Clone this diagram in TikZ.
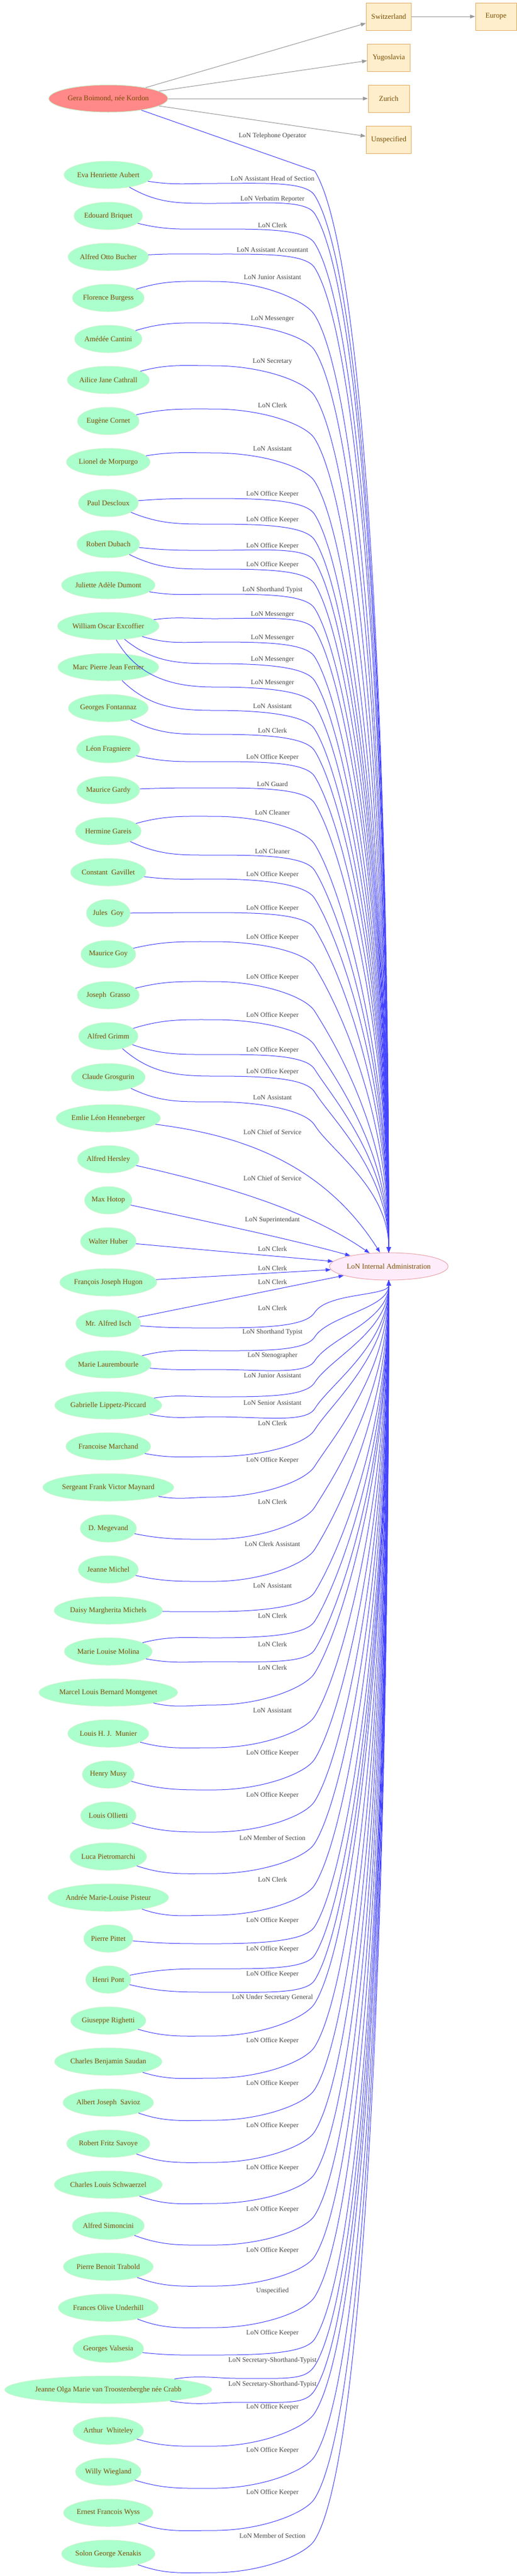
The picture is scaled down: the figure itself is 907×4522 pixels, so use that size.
\documentclass[tikz,border=0pt]{standalone}
\usepackage{fontspec}
\setmainfont{Liberation Serif}
\usetikzlibrary{shapes.geometric,arrows.meta}
\definecolor{pfill}{RGB}{170,255,204}
\definecolor{pborder}{RGB}{200,245,205}
\definecolor{gfill}{RGB}{255,136,136}
\definecolor{ntext}{RGB}{122,76,0}
\definecolor{cfill}{RGB}{255,238,204}
\definecolor{cborder}{RGB}{225,172,100}
\definecolor{lfill}{RGB}{255,236,250}
\definecolor{lborder}{RGB}{232,165,172}
\definecolor{btext}{RGB}{68,68,68}
\definecolor{bline}{RGB}{68,68,255}
\definecolor{gline}{RGB}{153,153,153}
\newcommand\pnfont{\fontsize{12.8pt}{15pt}\selectfont}
\newcommand\lbfont{\fontsize{11.8pt}{14pt}\selectfont}
\newlength\nwlen
\tikzset{
  person/.style={ellipse,fill=pfill,draw=pborder,line width=1pt,text=ntext,font=\pnfont,inner xsep=0pt,inner ysep=3pt,minimum height=48pt},
  country/.style={rectangle,fill=cfill,draw=cborder,line width=1pt,text=ntext,font=\pnfont,inner xsep=9pt,minimum width=72pt,minimum height=48pt},
  lonbox/.style={ellipse,fill=lfill,draw=lborder,line width=1pt,text=ntext,font=\pnfont,inner sep=0pt,minimum width=204pt,minimum height=48pt},
  elabel/.style={font=\lbfont,text=btext,inner sep=0pt},
  bedge/.style={draw=bline,line width=1pt,-{Triangle[length=9pt,width=6.5pt]}},
  gedge/.style={draw=gline,line width=1pt,-{Triangle[length=9pt,width=6.5pt]}}
}
% upper edge: [Ax]{person}{label y}{text}{curve y at Ax}{curve y at 552}
\newcommand\uedge[6][375]{%
  \pgfmathsetmacro\yP{307+72*#2}%
  \pgfmathsetmacro\mm{max(#5,#3+7)}%
  \pgfmathsetmacro\tone{max(-60,min(60,2*atan2(\yP-\mm,#1-190)))}%
  \pgfmathsetmacro\dd{2199-#6}%
  \pgfmathsetmacro\ss{min(90,20+0.035*\dd)}%
  \pgfmathsetmacro\cy{#6-25.4}%
  \pgfmathsetmacro\ax{552+\ss}%
  \pgfmathsetmacro\ay{#6+1.6*\ss}%
  \pgfmathsetmacro\by{#6+0.5*\dd}%
  \draw[bedge] (p#2) to[out=\tone,in=180] (#1,-\mm) .. controls ({#1+85},-\mm) and (536.1,-\cy) .. (552,-#6) .. controls (\ax,-\ay) and (682,-\by) .. (lon.north);
  \node[elabel] (lb#3) at (478,-#3) {#4};
}
% lower edge
\newcommand\ledge[6][375]{%
  \pgfmathsetmacro\yP{307+72*#2}%
  \pgfmathsetmacro\bb{max(#6,#3+8)}%
  \pgfmathsetmacro\tone{max(-60,min(60,2*atan2(\yP-#5,#1-190)))}%
  \pgfmathsetmacro\dd{\bb-2247}%
  \pgfmathsetmacro\ss{min(90,20+0.035*\dd)}%
  \pgfmathsetmacro\cy{\bb+25.4}%
  \pgfmathsetmacro\ax{552+\ss}%
  \pgfmathsetmacro\ay{\bb-1.6*\ss}%
  \pgfmathsetmacro\by{\bb-0.5*\dd}%
  \draw[bedge] (p#2) to[out=\tone,in=180] (#1,-#5) .. controls ({#1+85},-#5) and (536.1,-\cy) .. (552,-\bb) .. controls (\ax,-\ay) and (682,-\by) .. (lon.south);
  \node[elabel] (lb#3) at (478,-#3) {#4};
}
\begin{document}
\begin{tikzpicture}[x=1pt,y=1pt]
\useasboundingbox (0,0) rectangle (907,-4522);
\fill[white] (0,0) rectangle (907,-4522);
% country boxes
\node[country] (swi) at (682,-29) {Switzerland};
\node[country] (yug) at (682,-101) {Yugoslavia};
\node[country] (zur) at (682,-173) {Zurich};
\node[country] (uns) at (682,-245) {Unspecified};
\node[country] (eur) at (870,-29) {Europe};
% central node
\node[lonbox] (lon) at (682,-2223) {LoN Internal Administration};
% Gera
\node[person,fill=gfill,minimum width=209pt] (gera) at (190,-173) {Gera Boimond, née Kordon};
% persons
\foreach \i/\n in {0/Eva Henriette Aubert,1/Edouard Briquet,2/Alfred Otto Bucher,3/Florence Burgess,4/Amédée Cantini,5/Ailice Jane Cathrall,6/Eugène Cornet,7/Lionel de Morpurgo,8/Paul Descloux,9/Robert Dubach,10/Juliette Adèle Dumont,11/William Oscar Excoffier,12/Marc Pierre Jean Ferrier,13/Georges Fontannaz,14/Léon Fragniere,15/Maurice Gardy,16/Hermine Gareis,17/Constant\ \ Gavillet,18/Jules\ \ Goy,19/Maurice Goy,20/Joseph\ \ Grasso,21/Alfred Grimm,22/Claude Grosgurin,23/Emlie Léon Henneberger,24/Alfred Hersley,25/Max Hotop,26/Walter Huber,27/François Joseph Hugon,28/Mr. Alfred Isch,29/Marie Laurembourle,30/Gabrielle Lippetz-Piccard,31/Francoise Marchand,32/Sergeant Frank Victor Maynard,33/D. Megevand,34/Jeanne Michel,35/Daisy Margherita Michels,36/Marie Louise Molina,37/Marcel Louis Bernard Montgenet,38/Louis H. J.\ \ Munier,39/Henry Musy,40/Louis Ollietti,41/Luca Pietromarchi,42/Andrée Marie-Louise Pisteur,43/Pierre Pittet,44/Henri Pont,45/Giuseppe Righetti,46/Charles Benjamin Saudan,47/Albert Joseph\ \ Savioz,48/Robert Fritz Savoye,49/Charles Louis Schwaerzel,50/Alfred Simoncini,51/Pierre Benoit Trabold,52/Frances Olive Underhill,53/Georges Valsesia,54/Jeanne Olga Marie van Troostenberghe née Crabb,55/Arthur\ \ Whiteley,56/Willy Wiegland,57/Ernest Francois Wyss,58/Solon George Xenakis}{
  \settowidth{\nwlen}{\pnfont\n}
  \pgfmathsetmacro\w{1.306*\nwlen+22}
  \node[person,minimum width=\w pt] (p\i) at (190,{-307-72*\i}) {\n};
}
% grey edges
\draw[gedge] (gera) -- (swi);
\draw[gedge] (gera) -- (yug);
\draw[gedge] (gera) -- (zur);
\draw[gedge] (gera) -- (uns);
\draw[gedge] (swi) -- (eur);
% Gera's edge
\draw[bedge] (gera) -- (552,-300) .. controls (638,-438) and (682,-1250) .. (lon.north);
\node[elabel] (lb239) at (478,-239) {LoN Telephone Operator};
% upper edges
\uedge{0}{313}{LoN Assistant Head of Section}{322}{343}
\uedge{0}{350}{LoN Verbatim Reporter}{357}{375}
\uedge{1}{395}{LoN Clerk}{402}{427}
\uedge{2}{439}{LoN Assistant Accountant}{446}{470}
\uedge{3}{487}{LoN Junior Assistant}{494}{553}
\uedge{4}{560}{LoN Messenger}{567}{615}
\uedge{5}{635}{LoN Secretary}{642}{695}
\uedge{6}{711}{LoN Clerk}{718}{770}
\uedge{7}{788}{LoN Assistant}{795}{845}
\uedge{8}{868}{LoN Office Keeper}{875}{903}
\uedge{8}{913}{LoN Office Keeper}{920}{948}
\uedge{9}{959}{LoN Office Keeper}{966}{985}
\uedge{9}{992}{LoN Office Keeper}{999}{1025}
\uedge{10}{1036}{LoN Shorthand Typist}{1043}{1068}
\uedge{11}{1079}{LoN Messenger}{1086}{1105}
\uedge{11}{1120}{LoN Messenger}{1127}{1153}
\uedge{11}{1158}{LoN Messenger}{1165}{1195}
\uedge{11}{1199}{LoN Messenger}{1206}{1237}
\uedge{12}{1240}{LoN Assistant}{1247}{1280}
\uedge{13}{1282}{LoN Clerk}{1289}{1318}
\uedge{14}{1330}{LoN Office Keeper}{1337}{1363}
\uedge{15}{1376}{LoN Guard}{1383}{1410}
\uedge{16}{1426}{LoN Cleaner}{1433}{1482}
\uedge{16}{1494}{LoN Cleaner}{1501}{1528}
\uedge{17}{1536}{LoN Office Keeper}{1543}{1577}
\uedge{18}{1595}{LoN Office Keeper}{1602}{1630}
\uedge{19}{1646}{LoN Office Keeper}{1653}{1697}
\uedge{20}{1716}{LoN Office Keeper}{1723}{1775}
\uedge{21}{1783}{LoN Office Keeper}{1790}{1835}
\uedge{21}{1844}{LoN Office Keeper}{1851}{1877}
\uedge{21}{1882}{LoN Office Keeper}{1889}{1917}
\uedge{22}{1927}{LoN Assistant}{1934}{1975}
% edges close to the central node
\draw[bedge] (p23) .. controls (400,-1990) and (560,-2030) .. (lon);
\node[elabel] (lb1987) at (478,-1987) {LoN Chief of Service};
\draw[bedge] (p24) .. controls (400,-2082) and (540,-2125) .. (lon);
\node[elabel] (lb2068) at (478,-2068) {LoN Chief of Service};
\draw[bedge] (p25) .. controls (400,-2152) and (520,-2178) .. (lon);
\node[elabel] (lb2142) at (478,-2142) {LoN Superintendant};
\draw[bedge] (p26) -- (lon);
\node[elabel] (lb2192) at (478,-2192) {LoN Clerk};
\draw[bedge] (p27) -- (lon);
\node[elabel] (lb2226) at (478,-2226) {LoN Clerk};
\draw[bedge] (p28) -- (lon);
\node[elabel] (lb2250) at (478,-2250) {LoN Clerk};
% lower edges
\ledge{28}{2296}{LoN Clerk}{2331}{2303}
\ledge{29}{2339}{LoN Shorthand Typist}{2371}{2347}
\ledge{29}{2380}{LoN Stenographer}{2404}{2389}
\ledge{30}{2415}{LoN Junior Assistant}{2452}{2427}
\ledge{30}{2463}{LoN Senior Assistant}{2487}{2473}
\ledge{31}{2498}{LoN Clerk}{2557}{2510}
\ledge{32}{2564}{LoN Office Keeper}{2628}{2574}
\ledge{33}{2636}{LoN Clerk}{2702}{2646}
\ledge{34}{2710}{LoN Clerk Assistant}{2776}{2720}
\ledge{35}{2784}{LoN Assistant}{2829}{2795}
\ledge{36}{2836}{LoN Clerk}{2875}{2846}
\ledge{36}{2886}{LoN Clerk}{2917}{2896}
\ledge{37}{2927}{LoN Clerk}{2993}{2937}
\ledge{38}{3003}{LoN Assistant}{3068}{3013}
\ledge{39}{3078}{LoN Office Keeper}{3142}{3088}
\ledge{40}{3152}{LoN Office Keeper}{3216}{3162}
\ledge{41}{3226}{LoN Member of Section}{3289}{3236}
\ledge{42}{3299}{LoN Clerk}{3362}{3309}
\ledge{43}{3372}{LoN Office Keeper}{3412}{3382}
\ledge{44}{3422}{LoN Office Keeper}{3456}{3432}
\ledge{44}{3466}{LoN Office Keeper}{3497}{3476}
\ledge{45}{3507}{LoN Under Secretary General}{3574}{3517}
\ledge{46}{3583}{LoN Office Keeper}{3648}{3593}
\ledge{47}{3658}{LoN Office Keeper}{3722}{3668}
\ledge{48}{3732}{LoN Office Keeper}{3796}{3742}
\ledge{49}{3806}{LoN Office Keeper}{3868}{3816}
\ledge{50}{3879}{LoN Office Keeper}{3941}{3889}
\ledge{51}{3951}{LoN Office Keeper}{4013}{3961}
\ledge{52}{4022}{Unspecified}{4086}{4032}
\ledge{53}{4096}{LoN Office Keeper}{4134}{4106}
\ledge[420]{54}{4144}{LoN Secretary-Shorthand-Typist}{4175}{4153}
\ledge[420]{54}{4186}{LoN Secretary-Shorthand-Typist}{4217}{4196}
\ledge{55}{4226}{LoN Office Keeper}{4294}{4236}
\ledge{56}{4302}{LoN Office Keeper}{4368}{4312}
\ledge{57}{4376}{LoN Office Keeper}{4442}{4386}
\ledge{58}{4451}{LoN Member of Section}{4516}{4457}
\end{tikzpicture}
\end{document}
